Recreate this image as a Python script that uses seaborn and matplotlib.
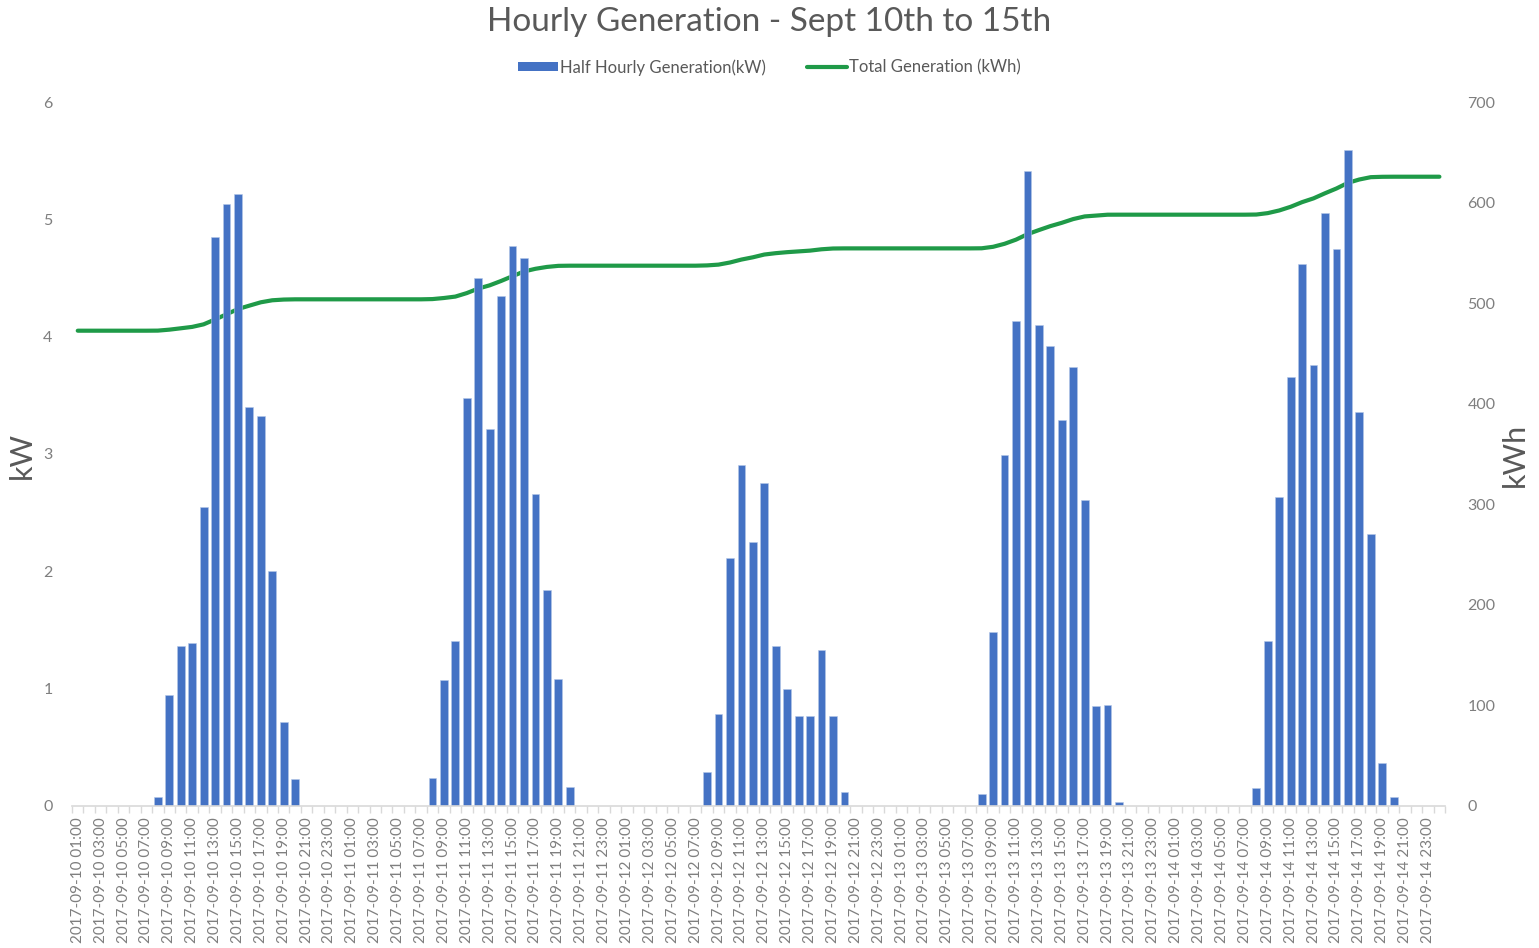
import numpy as np
import pandas as pd
import matplotlib.pyplot as plt
from matplotlib.patches import Patch
from matplotlib.lines import Line2D
import seaborn as sns

## hourly categories, 2017-09-10 01:00 .. 2017-09-15 00:00
hours = pd.date_range("2017-09-10 01:00", periods=120, freq="h").strftime("%Y-%m-%d %H:%M")

## generation per hour (kW), one row per 24 hours
gen_kw = [
    0, 0, 0, 0, 0, 0, 0, 0.08, 0.95, 1.36, 1.39, 2.55, 4.85, 5.13, 5.22, 3.40, 3.32, 2.00, 0.72, 0.23, 0, 0, 0, 0,
    0, 0, 0, 0, 0, 0, 0, 0.24, 1.07, 1.41, 3.48, 4.50, 3.21, 4.35, 4.77, 4.67, 2.66, 1.84, 1.08, 0.16, 0, 0, 0, 0,
    0, 0, 0, 0, 0, 0, 0, 0.29, 0.78, 2.11, 2.91, 2.25, 2.75, 1.36, 1.00, 0.77, 0.77, 1.33, 0.77, 0.12, 0, 0, 0, 0,
    0, 0, 0, 0, 0, 0, 0, 0.10, 1.48, 2.99, 4.13, 5.41, 4.10, 3.92, 3.29, 3.74, 2.61, 0.85, 0.86, 0.03, 0, 0, 0, 0,
    0, 0, 0, 0, 0, 0, 0, 0.15, 1.41, 2.63, 3.66, 4.62, 3.76, 5.05, 4.75, 5.59, 3.36, 2.32, 0.37, 0.08, 0, 0, 0, 0,
]

## running total (kWh)
total_kwh = [
    472.60, 472.60, 472.60, 472.60, 472.60, 472.60, 472.60, 472.68, 473.63, 474.99, 476.38, 478.93,
    483.78, 488.91, 494.13, 497.53, 500.85, 502.85, 503.57, 503.80, 503.80, 503.80, 503.80, 503.80,
    503.80, 503.80, 503.80, 503.80, 503.80, 503.80, 503.80, 504.04, 505.11, 506.52, 510.00, 514.50,
    517.71, 522.06, 526.83, 531.50, 534.16, 536.00, 537.08, 537.24, 537.24, 537.24, 537.24, 537.24,
    537.24, 537.24, 537.24, 537.24, 537.24, 537.24, 537.24, 537.53, 538.31, 540.42, 543.33, 545.58,
    548.33, 549.69, 550.69, 551.46, 552.23, 553.56, 554.33, 554.45, 554.45, 554.45, 554.45, 554.45,
    554.45, 554.45, 554.45, 554.45, 554.45, 554.45, 554.45, 554.55, 556.03, 559.02, 563.15, 568.56,
    572.66, 576.58, 579.87, 583.61, 586.22, 587.07, 587.93, 587.96, 587.96, 587.96, 587.96, 587.96,
    587.96, 587.96, 587.96, 587.96, 587.96, 587.96, 587.96, 588.11, 589.52, 592.15, 595.81, 600.43,
    604.19, 609.24, 613.99, 619.58, 622.94, 625.26, 625.63, 625.71, 625.71, 625.71, 625.71, 625.71,
]

kw_ticks = [0, 1, 2, 3, 4, 5, 6]
kwh_ticks = [0, 100, 200, 300, 400, 500, 600, 700]

bar_col = '#4472C4'
line_col = '#1F9A48'
txt_col = '#595959'
tick_col = '#7F7F7F'
axis_col = '#D9D9D9'

sns.set_theme(style="white")
plt.rcParams['font.family'] = ['Lato', 'DejaVu Sans']

df = pd.DataFrame({'hour': hours, 'pos': np.arange(len(hours)), 'kw': gen_kw, 'kwh': total_kwh})

fig = plt.figure(figsize=(15.39, 9.48), dpi=100)
ax = fig.add_axes([0.0468, 0.1498, 0.8922, 0.7426])
ax2 = ax.twinx()

# line behind the bars, like the original
sns.lineplot(data=df, x='pos', y='kwh', ax=ax2, color=line_col, linewidth=3.0)
sns.barplot(data=df, x='pos', y='kw', ax=ax, color=bar_col, saturation=1,
            width=0.68, edgecolor='#B4C7E7', linewidth=0.4)
ax.set_zorder(ax2.get_zorder() + 1)
ax.patch.set_visible(False)

ax.set_xlim(-0.5, len(hours) - 0.5)
ax.set_ylim(0, 6)
ax2.set_ylim(0, 700)

# x labels every second hour, tick marks between every category
ax.set_xticks(np.arange(0, len(hours), 2))
ax.set_xticklabels(hours[::2], rotation=90, fontsize=11, color=tick_col)
ax.set_xticks(np.arange(len(hours) + 1) - 0.5, minor=True)
ax.tick_params(axis='x', which='major', length=0, pad=8)
ax.tick_params(axis='x', which='minor', length=5, width=1, color=axis_col, direction='out', bottom=True)

ax.set_yticks(kw_ticks)
ax.set_yticklabels([str(t) for t in kw_ticks], fontsize=11.5, color=tick_col)
ax.tick_params(axis='y', length=0, pad=14)
ax2.set_yticks(kwh_ticks)
ax2.set_yticklabels([str(t) for t in kwh_ticks], fontsize=11.5, color=tick_col)
ax2.tick_params(axis='y', length=0, pad=16)

ax.set_xlabel('')
ax.set_ylabel('')
ax2.set_xlabel('')
ax2.set_ylabel('')
for a in (ax, ax2):
    for s in ['top', 'left', 'right', 'bottom']:
        a.spines[s].set_visible(False)
ax.spines['bottom'].set_visible(True)
ax.spines['bottom'].set_color(axis_col)
ax.spines['bottom'].set_linewidth(1.2)

fig.text(0.0143, 0.52, 'kW', rotation=90, fontsize=22, color=txt_col, ha='center', va='center')
fig.text(0.984, 0.52, 'kWh', rotation=90, fontsize=22, color=txt_col, ha='center', va='center')
fig.text(0.5, 0.977, 'Hourly Generation - Sept 10th to 15th', fontsize=24, color=txt_col,
         ha='center', va='center')

handles = [Patch(facecolor=bar_col, edgecolor='none', label='Half Hourly Generation(kW)'),
           Line2D([0], [0], color=line_col, linewidth=3.0, label='Total Generation (kWh)')]
leg = fig.legend(handles=handles, loc='center', bbox_to_anchor=(0.5, 0.929), ncol=2, frameon=False,
                 fontsize=12, handlelength=2.4, handleheight=0.5, handletextpad=0.1, columnspacing=2.5)
for t in leg.get_texts():
    t.set_color(txt_col)

plt.savefig('out.png', dpi=100)
